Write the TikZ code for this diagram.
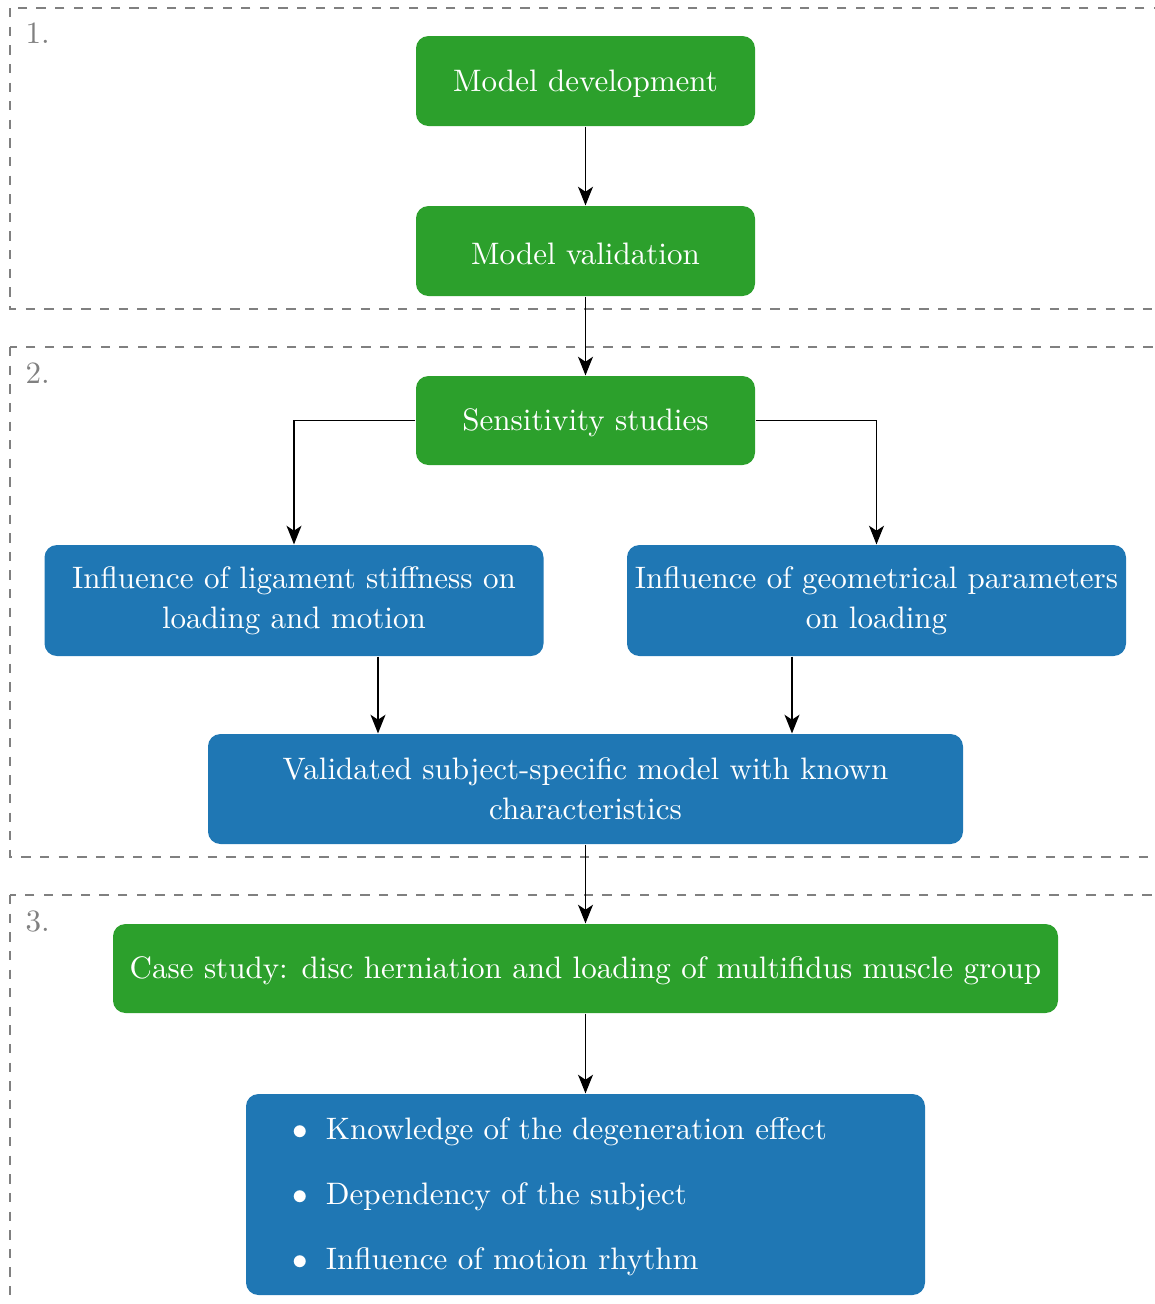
\documentclass[tikz,border=0pt]{standalone}
\usetikzlibrary{arrows.meta}
\definecolor{tgreen}{HTML}{2CA02C}
\definecolor{tblue}{HTML}{1F77B4}
\def\pxs{0.3222pt}
\begin{document}
\begin{tikzpicture}[x=0.3222pt, y=-0.3222pt,
  basebox/.style 2 args={rectangle, rounded corners=4pt, minimum width=#1*\pxs, minimum height=#2*\pxs, inner sep=0pt, text=white, align=center, font=\fontsize{10}{12.6}\selectfont, execute at begin node={\rule{0pt}{8.7pt}}},
  greenbox/.style 2 args={basebox={#1}{#2}, fill=tgreen},
  bluebox/.style 2 args={basebox={#1}{#2}, fill=tblue},
  twoline/.style={font=\fontsize{10}{12.8}\selectfont, execute at begin node={\rule{0pt}{10.5pt}}},
  arrowline/.style={-{Stealth[length=6pt, width=4.8pt, inset=1.6pt]}, line width=0.6pt},
  dframe/.style={dashed, gray, line width=0.5pt},
  numlbl/.style={anchor=base west, text=gray, inner sep=0pt, font=\fontsize{10}{12}\selectfont}]
\useasboundingbox (0,0) rectangle (1155,1304);
\clip (0,0) rectangle (1155,1304);

% frames
\draw[dframe] (10,8) rectangle (1170,309);
\draw[dframe] (10,347) rectangle (1170,857);
\draw[dframe] (10,895) rectangle (1170,1330);
\node[numlbl] (l1) at (25,43) {1.};
\node[numlbl] (l2) at (25,383) {2.};
\node[numlbl] (l3) at (25,931) {3.};

% nodes
\node[greenbox={339}{90}] (md) at (585.5,81) {Model development};
\node[greenbox={339}{90}] (mv) at (585.5,251) {Model validation};
\node[greenbox={339}{89}] (ss) at (585.5,420.5) {Sensitivity studies};
\node[bluebox={499}{111}, twoline] (lig) at (294,600.5) {Influence of ligament stiffness on\\loading and motion};
\node[bluebox={499}{111}, twoline] (geo) at (876.5,600.5) {Influence of geometrical parameters\\on loading};
\node[bluebox={755}{110}, twoline] (val) at (585.5,789) {Validated subject-specific model with known\\characteristics};
\node[greenbox={945}{89}] (cs) at (585.5,968.5) {Case study: disc herniation and loading of multifidus muscle group};
\node[bluebox={679}{201}, align=left, text width=585*\pxs] (bl) at (585.5,1194.5)
  {$\bullet$\hspace{5.6pt}Knowledge of the degeneration effect\\[8.3pt]
   $\bullet$\hspace{5.6pt}Dependency of the subject\\[8.3pt]
   $\bullet$\hspace{5.6pt}Influence of motion rhythm};

% connectors
\coordinate (ja) at (378,700);
\coordinate (jb) at (792,700);
\draw[arrowline] (md) -- (mv);
\draw[arrowline] (mv) -- (ss);
\draw[arrowline] (ss.west) -| (lig.north);
\draw[arrowline] (ss.east) -| (geo.north);
\draw[arrowline] (lig.south -| ja) -- (val.north -| ja);
\draw[arrowline] (geo.south -| jb) -- (val.north -| jb);
\draw[arrowline] (val) -- (cs);
\draw[arrowline] (cs) -- (bl);
\end{tikzpicture}
\end{document}
